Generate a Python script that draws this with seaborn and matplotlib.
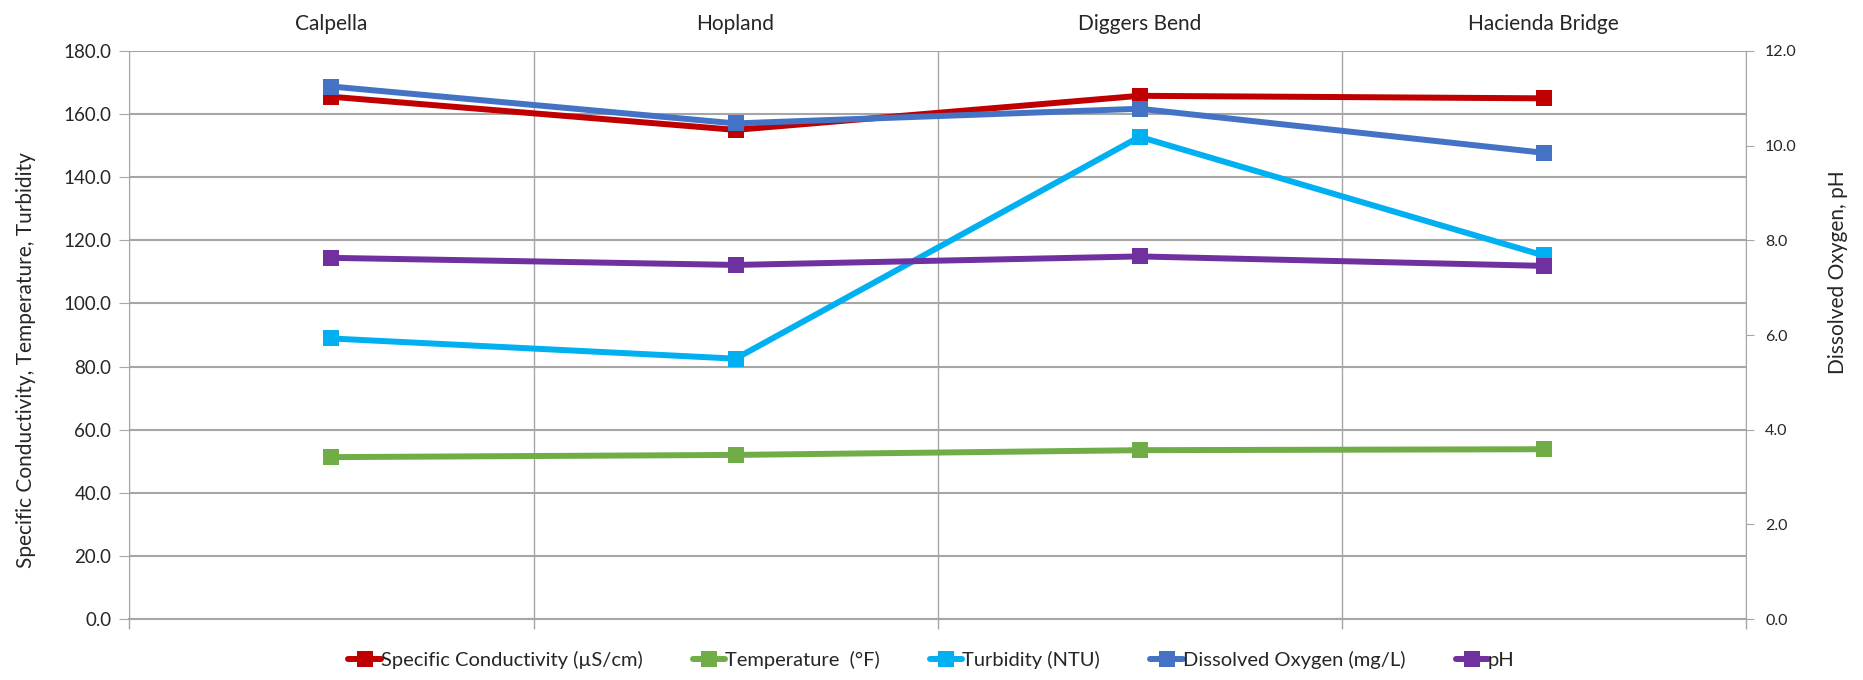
import matplotlib
matplotlib.use("Agg")
import matplotlib.pyplot as plt
import seaborn as sns
import pandas as pd

sites = ["Calpella", "Hopland", "Diggers Bend", "Hacienda Bridge"]
conductivity = [165.5, 155.0, 165.8, 165.0]
temperature = [51.3, 52.0, 53.5, 53.8]
turbidity = [88.9, 82.5, 152.8, 115.2]
dissolved_oxygen = [11.25, 10.47, 10.78, 9.85]
ph = [7.63, 7.48, 7.66, 7.46]

left_series = [
    ("Specific Conductivity (\u00b5S/cm)", conductivity, "#C00000"),
    ("Temperature  (\u00b0F)", temperature, "#70AD47"),
    ("Turbidity (NTU)", turbidity, "#00B0F0"),
]
right_series = [
    ("Dissolved Oxygen (mg/L)", dissolved_oxygen, "#4472C4"),
    ("pH", ph, "#7030A0"),
]

sns.set_style("white")
plt.rcParams["font.family"] = ["Lato", "DejaVu Sans"]

fig = plt.figure(figsize=(18.63, 6.8), dpi=100)
ax = fig.add_axes([0.0695, 0.0897, 0.937 - 0.0695, 0.925 - 0.0897])
ax2 = ax.twinx()

for name, vals, col in left_series:
    df = pd.DataFrame({"site": sites, "value": vals})
    sns.lineplot(data=df, x="site", y="value", ax=ax, color=col, linewidth=4.3,
                 marker="s", markersize=11, markeredgewidth=0, label=name, sort=False)
for name, vals, col in right_series:
    df = pd.DataFrame({"site": sites, "value": vals})
    sns.lineplot(data=df, x="site", y="value", ax=ax2, color=col, linewidth=4.3,
                 marker="s", markersize=11, markeredgewidth=0, label=name, sort=False)

h1, l1 = ax.get_legend_handles_labels()
h2, l2 = ax2.get_legend_handles_labels()
ax.get_legend().remove()
ax2.get_legend().remove()

grid_col = "#A6A6A6"
ax.set_xlim(-0.5, 3.5)
ax.set_ylim(0, 180)
ax.set_yticks(range(0, 181, 20))
ax.set_yticklabels([f"{v:.1f}" for v in range(0, 181, 20)], fontsize=13.5)
ax2.set_ylim(0, 12)
ax2.set_yticks(range(0, 13, 2))
ax2.set_yticklabels([f"{v:.1f}" for v in range(0, 13, 2)], fontsize=11.5)

# category labels on top, boundaries on bottom
ax.xaxis.tick_top()
ax.set_xticks(range(len(sites)))
ax.set_xticklabels(sites, fontsize=15)
ax.tick_params(axis="x", which="major", length=0, pad=12)
ax.set_xticks([-0.5, 0.5, 1.5, 2.5, 3.5], minor=True)
ax.tick_params(axis="x", which="minor", bottom=True, top=False, length=7,
               color=grid_col, width=1)
ax.grid(True, axis="x", which="minor", color=grid_col, linewidth=1)
ax.grid(True, axis="y", which="major", color=grid_col, linewidth=1.5)
ax.grid(False, axis="x", which="major")
ax.tick_params(axis="y", length=7, color=grid_col, left=True, pad=6)
ax2.tick_params(axis="y", length=6, color=grid_col, right=True, pad=8)
ax2.grid(False)

ax.set_xlabel("")
ax.set_ylabel("Specific Conductivity, Temperature, Turbidity", fontsize=15)
ax.yaxis.set_label_coords(-0.058, 0.455)
ax2.set_xlabel("")
ax2.set_ylabel("Dissolved Oxygen, pH", fontsize=15)
ax2.yaxis.set_label_coords(1.051, 0.61)

for a in (ax, ax2):
    for s in a.spines.values():
        s.set_visible(False)
ax.spines["left"].set_visible(True)
ax.spines["left"].set_color(grid_col)
ax.spines["bottom"].set_visible(True)
ax.spines["bottom"].set_color(grid_col)
ax.spines["bottom"].set_linewidth(1.5)
ax2.spines["right"].set_visible(True)
ax2.spines["right"].set_color(grid_col)

fig.legend(h1 + h2, l1 + l2, loc="center", bbox_to_anchor=(0.5, 0.03), ncol=5,
           frameon=False, fontsize=14.5, handlelength=1.6, handletextpad=0.0,
           columnspacing=2.5)

fig.savefig("out.png", dpi=100)
